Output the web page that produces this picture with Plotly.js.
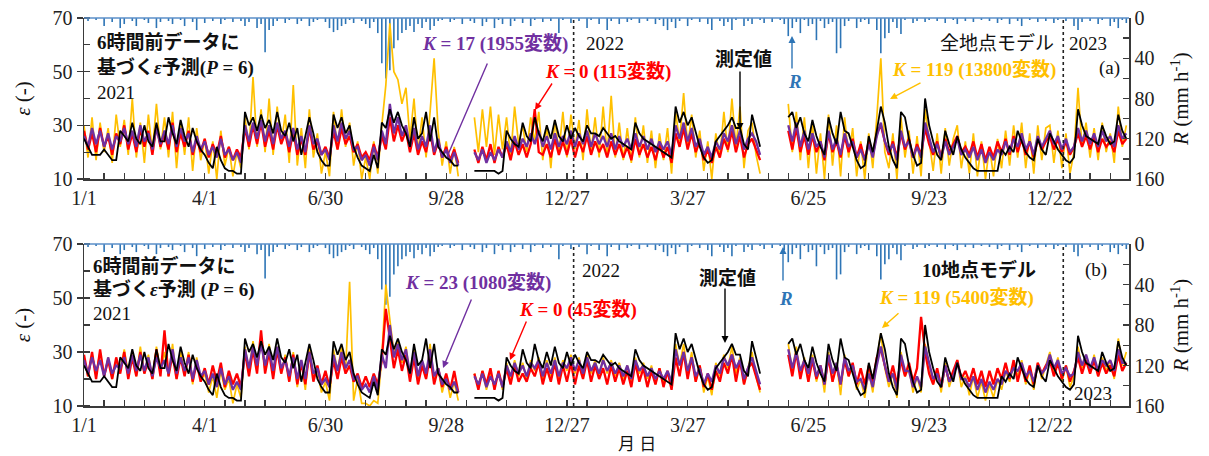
<!DOCTYPE html>
<html><head><meta charset="utf-8">
<script src="https://cdn.plot.ly/plotly-3.0.1.min.js"></script>
<style>html,body{margin:0;padding:0;background:#fff;}#chart{width:1209px;height:456px;}</style>
</head><body><div id="chart"></div>
<script>
// ---- data: one value every 3 days starting 2021-01-01 ----
const startDate = '2021-01-01';
const stepDays = 3;

const measured = [
25,22,19,19,19,21,19,17,17,28,
26,24,31,25,23,30,24,22,31,24,
24,33,27,23,32,26,22,29,24,21,
19,16,14,22,17,14,13,13,12,12,
35,30,33,28,34,29,32,27,35,28,
26,31,24,29,19,26,33,27,20,17,
15,15,34,29,33,27,30,22,18,15,
14,13,19,14,31,29,36,31,35,30,
27,22,33,25,27,35,24,33,22,20,
18,17,15,15,null,null,null,13,13,13,
13,13,13,12,13,28,25,23,22,31,
26,24,33,27,24,30,25,32,26,24,
30,25,29,26,24,30,27,27,26,29,
27,25,26,24,23,22,21,31,27,25,
24,23,22,21,20,19,18,37,31,35,
30,33,27,22,18,16,17,24,26,28,
30,33,29,29,23,21,34,28,22,null,
null,null,null,null,null,33,35,29,33,27,
24,32,26,22,19,33,27,23,35,28,
27,22,17,14,15,26,20,28,37,31,
22,17,14,35,33,25,19,15,16,40,
30,24,19,17,28,23,19,26,21,18,
16,14,13,13,13,13,13,13,21,19,
22,20,28,24,20,18,17,25,21,19,
27,24,21,19,17,16,18,36,30,26,
25,24,23,30,26,23,24,34,28,25];

const rain = [
0,3,0,2,0,8,0,4,0,10,
6,0,3,8,0,2,5,0,10,4,
0,3,6,0,2,8,0,4,12,0,
5,0,3,0,6,2,0,4,0,3,
8,4,0,10,6,34,12,8,3,0,
5,2,0,6,3,0,8,4,2,0,
4,10,14,12,8,6,2,5,0,3,
6,10,4,15,45,60,52,30,22,15,
12,8,14,6,10,4,12,8,3,2,
0,4,2,0,6,0,3,5,0,8,
4,0,10,2,6,0,8,3,0,5,
0,8,2,0,4,0,3,0,15,2,
0,5,0,3,0,10,2,0,6,0,
12,3,0,6,0,4,2,0,5,0,
3,0,6,2,8,12,4,10,3,0,
8,2,0,4,0,6,12,0,3,8,
4,12,2,0,8,3,6,0,2,5,
0,4,0,2,6,18,10,4,15,2,
8,6,22,3,10,6,4,35,30,8,
3,0,10,4,2,6,0,12,35,20,
15,4,10,16,2,0,5,3,0,4,
2,0,3,0,5,0,2,6,0,3,
0,4,0,2,0,3,0,5,2,0,
6,0,3,8,0,2,0,4,0,3,
0,5,2,0,3,0,8,12,4,0,
3,0,6,2,0,8,4,10,2,5];

// (a) all-site model
const a_K17 = [
26,22,29,23,28,22,27,21,26,24,
29,23,28,22,30,24,27,21,29,23,
28,23,30,22,29,24,27,20,26,21,
24,19,22,18,25,19,21,17,20,16,
30,24,31,25,32,24,30,23,31,25,
28,22,29,21,26,20,30,23,25,19,
21,17,30,24,31,25,28,21,22,17,
19,15,22,17,28,23,38,27,33,26,
30,22,29,21,26,22,30,20,25,18,
21,16,20,15,null,null,null,20,17,21,
16,20,17,21,18,24,20,26,21,25,
22,27,23,28,22,26,21,27,22,26,
23,28,22,27,23,28,22,27,23,26,
22,27,21,26,22,25,21,27,22,26,
21,25,20,24,21,24,19,30,25,31,
24,29,22,25,19,22,18,24,21,27,
24,30,23,28,21,25,27,24,19,null,
null,null,null,null,null,30,24,31,22,28,
21,27,22,24,18,28,21,25,19,27,
22,24,18,21,17,23,18,26,31,24,
20,23,17,28,22,24,18,22,18,31,
25,20,23,18,24,19,22,25,19,21,
18,22,17,21,16,20,17,21,19,24,
20,25,22,27,21,24,19,26,22,25,
28,23,26,21,25,20,22,29,24,28,
23,27,22,28,24,26,22,30,25,27];

const a_K0 = [
28,21,27,20,29,22,26,19,27,23,
30,21,27,20,29,22,28,19,30,22,
27,21,31,20,27,22,28,19,25,20,
25,18,23,19,26,18,22,17,21,18,
29,22,30,23,31,22,28,21,30,23,
27,20,28,19,25,19,29,21,24,19,
22,18,28,21,29,23,26,20,23,18,
20,17,23,18,26,21,33,24,30,24,
28,20,27,19,24,20,28,19,24,18,
22,17,21,16,null,null,null,21,16,22,
17,23,16,22,18,23,17,24,19,23,
18,23,36,20,19,23,18,25,19,24,
19,25,18,24,20,26,19,24,20,23,
18,24,19,23,18,22,17,25,19,23,
18,22,17,23,18,22,16,27,22,29,
21,27,20,24,17,21,16,22,18,25,
21,28,20,26,18,23,25,21,17,null,
null,null,null,null,null,28,21,29,20,26,
19,26,20,24,17,27,20,24,18,26,
20,25,18,23,17,24,19,27,30,24,
19,24,18,27,21,25,18,23,19,29,
23,19,24,18,25,20,23,26,20,22,
19,24,18,23,17,22,18,24,20,25,
19,26,20,25,19,24,18,25,21,24,
26,21,25,20,24,19,22,27,22,26,
21,26,20,25,22,24,20,28,23,25];

const a_K119 = [
30,18,33,17,31,20,29,16,34,22,
32,19,40,18,31,16,34,20,38,21,
33,18,35,14,31,19,33,13,29,17,
25,12,24,10,28,15,22,11,20,14,
33,21,48,22,36,20,40,19,37,23,
34,16,45,15,29,14,36,18,27,12,
20,11,35,21,36,22,31,15,24,10,
18,10,24,12,30,45,68,50,47,38,
44,25,40,20,33,18,35,55,28,15,
24,12,22,11,null,null,null,33,20,36,
22,37,19,34,21,33,18,37,23,30,
20,33,24,35,17,30,14,32,20,35,
18,34,21,32,17,36,20,33,18,37,
19,41,18,31,17,29,16,33,18,30,
16,28,14,27,17,29,12,35,24,42,
22,34,18,28,13,24,10,27,18,35,
20,40,22,37,14,28,31,19,12,null,
null,null,null,null,null,38,20,35,17,33,
14,31,12,27,10,34,15,30,11,33,
18,29,11,24,10,27,14,33,55,20,
14,27,10,33,18,28,12,26,11,36,
24,13,27,12,29,15,25,30,14,24,
12,27,11,24,10,22,11,25,14,28,
15,30,18,31,14,27,12,30,17,29,
30,16,28,14,27,12,20,44,22,31,
18,29,17,31,20,27,16,37,22,30];

// (b) 10-site model
const b_K23 = [
27,22,28,23,27,21,28,22,25,24,
28,22,29,23,29,23,28,21,28,24,
27,22,31,22,28,23,28,20,27,21,
23,18,22,17,24,18,21,16,19,16,
31,24,32,25,33,25,31,23,32,24,
27,21,28,20,27,20,30,22,24,18,
20,17,29,23,30,24,27,20,21,16,
18,15,21,16,29,24,40,28,33,27,
31,22,30,21,27,22,31,21,24,18,
20,16,19,15,null,null,null,21,18,22,
17,21,18,22,17,25,21,26,22,25,
21,26,24,27,21,26,22,27,21,26,
24,28,23,27,22,28,23,26,22,27,
23,26,22,25,21,25,20,27,23,25,
21,24,20,23,20,23,19,31,25,30,
23,28,21,24,18,22,19,25,22,28,
25,29,24,27,20,24,28,23,18,null,
null,null,null,null,null,31,24,30,23,27,
22,28,21,25,18,29,22,26,18,28,
23,25,19,20,16,22,17,25,32,25,
19,22,16,29,23,23,17,21,17,32,
26,20,22,17,25,19,21,26,20,20,
17,21,16,20,15,19,16,20,18,23,
21,24,23,26,21,23,19,25,22,24,
29,24,27,22,24,21,22,30,25,29,
24,28,23,27,25,27,23,31,26,26];

const b_K0 = [
29,21,30,20,31,21,27,20,28,22,
30,20,28,21,30,22,27,20,31,21,
38,21,29,20,28,21,29,19,26,19,
24,18,25,19,26,17,23,18,22,17,
30,21,31,22,38,22,30,20,31,22,
28,19,29,18,26,18,30,19,25,18,
23,17,27,20,28,22,25,19,22,17,
21,17,22,18,27,46,35,24,31,23,
29,19,28,18,25,20,29,18,24,17,
22,16,23,15,null,null,null,22,16,23,
18,24,16,23,17,24,18,25,19,22,
19,24,21,26,18,24,19,26,18,25,
19,26,18,25,20,27,19,25,20,24,
18,25,19,24,18,23,17,26,19,24,
17,23,18,24,17,23,16,28,21,30,
20,28,19,25,17,22,16,23,19,26,
22,29,19,27,18,24,26,21,16,null,
null,null,null,null,null,29,21,30,20,27,
19,27,20,25,18,28,19,25,18,27,
21,26,18,24,18,25,19,28,31,25,
19,25,18,27,21,26,19,24,43,30,
22,18,24,17,25,19,23,27,20,23,
19,24,18,23,17,23,18,24,20,26,
20,27,19,25,19,25,18,26,22,25,
27,21,26,20,25,19,23,28,22,27,
22,27,21,26,22,25,21,29,23,26];

const b_K119 = [
27,21,29,22,30,21,28,20,27,23,
31,22,30,21,32,22,29,20,32,23,
30,21,33,20,30,22,30,18,28,19,
22,15,21,13,23,16,20,11,18,13,
32,23,34,24,35,23,33,21,32,22,
29,19,30,17,27,16,32,20,24,15,
19,12,31,23,32,23,56,12,20,11,
11,10,12,11,28,55,42,30,34,26,
32,21,31,19,27,20,33,19,24,15,
21,13,19,12,null,null,null,22,17,23,
16,22,17,23,16,26,20,27,21,26,
20,27,23,28,20,27,21,28,20,27,
23,29,22,28,21,29,22,27,21,28,
22,27,21,26,20,25,19,28,22,26,
20,25,18,24,19,23,17,33,25,33,
22,30,19,25,15,21,14,26,21,29,
24,32,22,28,18,24,30,21,15,null,
null,null,null,null,null,33,23,32,21,28,
19,29,19,25,15,30,19,26,14,29,
21,25,16,20,13,23,15,27,37,24,
17,22,13,30,21,24,15,21,15,33,
26,18,23,15,26,17,22,27,17,21,
14,21,13,19,12,18,13,20,16,23,
19,25,21,27,18,23,16,26,20,25,
30,22,28,19,25,17,21,32,24,29,
22,29,21,28,23,27,20,35,25,30];

const tickDates = ['2021-01-01','2021-04-01','2021-06-30','2021-09-28','2021-12-27','2022-03-27','2022-06-25','2022-09-23','2022-12-22'];
const tickLabels = ['1/1','4/1','6/30','9/28','12/27','3/27','6/25','9/23','12/22'];
const yearLines = ['2022-01-01','2023-01-01'];

// ---- build ----
const DAY = 86400000;
const t0 = Date.parse(startDate + 'T00:00:00Z');
const dates = measured.map((_, i) => new Date(t0 + i * stepDays * DAY).toISOString().slice(0, 10));

const C = {orange:'#ffc000', red:'#ff0000', purple:'#7030a0', black:'#000000', blue:'#2e75b6'};
function line(y, color, xa, ya, w){ return {type:'scatter', mode:'lines', x:dates, y:y, xaxis:xa, yaxis:ya, line:{color:color, width:w}, connectgaps:false, hoverinfo:'skip'}; }
function bars(xa, ya){ return {type:'bar', x:dates, y:rain, xaxis:xa, yaxis:ya, width:1.2*DAY, marker:{color:C.blue, line:{width:0}}, hoverinfo:'skip'}; }

const data = [
  bars('x','y'),
  line(a_K119, C.orange, 'x','y2', 1.7),
  line(a_K0, C.red, 'x','y2', 2.3),
  line(a_K17, C.purple, 'x','y2', 2.3),
  line(measured, C.black, 'x','y2', 1.8),
  bars('x2','y3'),
  line(b_K119, C.orange, 'x2','y4', 1.7),
  line(b_K0, C.red, 'x2','y4', 2.3),
  line(b_K23, C.purple, 'x2','y4', 2.3),
  line(measured, C.black, 'x2','y4', 1.8)
];

// layout geometry (pixels -> paper)
const W = 1209, H = 456, ML = 84, MR = 80, MT = 18, MB = 50;
const PW = W - ML - MR, PH = H - MT - MB;
const X = p => (p - ML) / PW;
const Y = p => (H - MB - p) / PH;
const topDom = [Y(179), 1], botDom = [0, Y(244)];

const FONT = 'Liberation Serif, "Noto Sans CJK JP", serif';
const axCol = '#3a3a3a';
const tickFont = {family: FONT, size: 20, color: '#222'};
const titleFont = {family: FONT, size: 21, color: '#111'};

function xax(anchor){
  return {type:'date', range:['2021-01-01','2023-02-19'], anchor:anchor, domain:[0,1],
    tickmode:'array', tickvals:tickDates, ticktext:tickLabels, ticks:'inside', ticklen:6, tickwidth:1.3, tickcolor:axCol,
    minor:{tick0:'2021-01-01', dtick:15*DAY, ticks:'inside', ticklen:6, tickwidth:1.3, tickcolor:axCol},
    showline:true, linecolor:axCol, linewidth:1.5, showgrid:false, zeroline:false, tickfont:tickFont, fixedrange:true};
}
function rax(dom, anchor){
  return {domain:dom, anchor:anchor, side:'right', range:[160,0], tickmode:'array', tickvals:[0,40,80,120,160],
    ticks:'inside', ticklen:6, tickwidth:1.3, tickcolor:axCol, minor:{dtick:20, tick0:0, ticks:'inside', ticklen:6, tickwidth:1.3, tickcolor:axCol},
    showline:true, linecolor:axCol, linewidth:1.5, showgrid:false, zeroline:false, tickfont:tickFont, fixedrange:true,
    title:{text:'<i>R</i> (mm h<sup>-1</sup>)', font:titleFont, standoff:10}, automargin:false};
}
function lax(over, anchor){
  return {overlaying:over, anchor:anchor, side:'left', range:[10,70], tickmode:'array', tickvals:[10,30,50,70],
    ticks:'outside', ticklen:6, tickwidth:1.3, tickcolor:axCol, minor:{dtick:10, tick0:10, ticks:'inside', ticklen:6, tickwidth:1.3, tickcolor:axCol},
    showline:true, linecolor:axCol, linewidth:1.5, showgrid:false, zeroline:false, tickfont:tickFont, fixedrange:true,
    title:{text:'<i>ε</i> (-)', font:titleFont, standoff:16}, automargin:false};
}

const ann = [];
function txt(t, px, py, color, opts){
  ann.push(Object.assign({text:t, xref:'paper', yref:'paper', x:X(px), y:Y(py), xanchor:'left', yanchor:'middle',
    showarrow:false, font:{family:FONT, size:19, color:color||'#111'}}, opts||{}));
}
function arr(tx, ty, hx, hy, color, head){
  ann.push({text:'', xref:'paper', yref:'paper', x:X(hx), y:Y(hy), ax:tx-hx, ay:ty-hy, showarrow:true,
    arrowhead:head===undefined?2:head, arrowsize:1, arrowwidth:1.4, arrowcolor:color, standoff:0, startstandoff:0});
}

// panel (a)
txt('<b>6時間前データに</b>', 95, 42);
txt('<b>基づく<i>ε</i>予測(<i>P</i> = 6)</b>', 95, 68);
txt('2021', 95, 93);
txt('<b><i>K</i> = 17 (1955変数)</b>', 420, 44, C.purple);
txt('2022', 584, 43);
txt('<b><i>K</i> = 0 (115変数)</b>', 543, 72, C.red);
txt('<b>測定値</b>', 713, 60);
txt('<b><i>R</i></b>', 786, 82, C.blue);
txt('全地点モデル', 938, 43);
txt('2023', 1067, 43);
txt('<b><i>K</i> = 119 (13800変数)</b>', 890, 70, C.orange);
txt('(a)', 1097, 68);
arr(488, 62, 447, 157, C.purple, 0);
arr(553, 82, 535, 110, C.red);
arr(740, 70, 740, 130, '#000');
arr(792, 70, 792, 36, C.blue);
arr(922, 82, 890, 99, C.orange);

// panel (b)
txt('<b>6時間前データに</b>', 91, 266);
txt('<b>基づく<i>ε</i>予測 (<i>P</i> = 6)</b>', 91, 290);
txt('2021', 91, 313);
txt('<b><i>K</i> = 23 (1080変数)</b>', 403, 283, C.purple);
txt('2022', 580, 270);
txt('<b><i>K</i> = 0 (45変数)</b>', 517, 310, C.red);
txt('<b>測定値</b>', 697, 278);
txt('<b><i>R</i></b>', 777, 298, C.blue);
txt('<b>10地点モデル</b>', 920, 270);
txt('(b)', 1083, 270);
txt('<b><i>K</i> = 119 (5400変数)</b>', 877, 298, C.orange);
txt('2023', 1072, 393);
arr(472, 298, 443, 368, C.purple);
arr(527, 320, 510, 360, C.red);
arr(725, 287, 725, 343, '#000');
arr(783, 282, 783, 247, C.blue);
arr(900, 312, 882, 328, C.orange);

// x caption
txt('月 日', 637, 444, '#111', {xanchor:'center', font:{family:FONT, size:17, color:'#111'}});

const shapes = [];
yearLines.forEach(d => {
  shapes.push({type:'line', xref:'x', yref:'paper', x0:d, x1:d, y0:topDom[0], y1:topDom[1], line:{color:'#222', width:1.6, dash:'3px,3px'}});
  shapes.push({type:'line', xref:'x2', yref:'paper', x0:d, x1:d, y0:botDom[0], y1:botDom[1], line:{color:'#222', width:1.6, dash:'3px,3px'}});
});
shapes.push({type:'line', xref:'paper', yref:'paper', x0:0, x1:1, y0:topDom[1], y1:topDom[1], line:{color:'#5b8fc8', width:1.6}});
shapes.push({type:'line', xref:'paper', yref:'paper', x0:0, x1:1, y0:botDom[1], y1:botDom[1], line:{color:'#5b8fc8', width:1.6}});

const layout = {
  width:W, height:H, margin:{l:ML, r:MR, t:MT, b:MB, pad:0},
  paper_bgcolor:'#fff', plot_bgcolor:'rgba(0,0,0,0)', showlegend:false, hovermode:false,
  font:{family:FONT, color:'#111'},
  xaxis: xax('y'), xaxis2: xax('y3'),
  yaxis: rax(topDom, 'x'), yaxis2: lax('y', 'x'),
  yaxis3: rax(botDom, 'x2'), yaxis4: lax('y3', 'x2'),
  annotations: ann, shapes: shapes
};

Plotly.newPlot('chart', data, layout, {displayModeBar:false, staticPlot:true});
</script></body></html>
